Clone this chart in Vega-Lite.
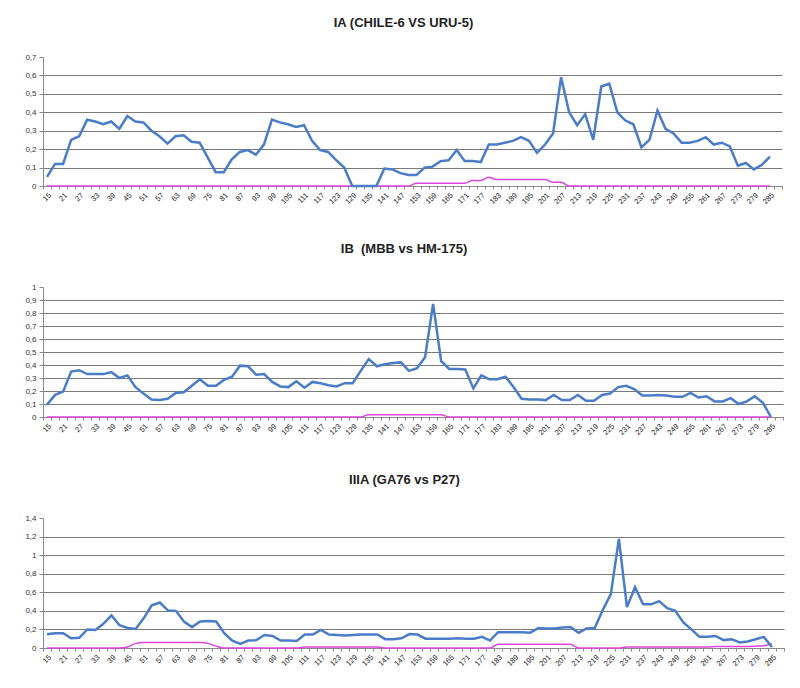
{
"$schema": "https://vega.github.io/schema/vega-lite/v6.json",
"padding": {"left": 0, "top": 17, "right": 0, "bottom": 0},
"background": "white",
"config": {
  "view": {"stroke": null},
  "font": "Liberation Sans",
  "title": {"font": "Liberation Sans", "fontSize": 13, "fontWeight": "bold", "color": "#222222", "anchor": "middle", "offset": 27, "dx": -9},
  "axis": {"labelFont": "Liberation Sans", "labelColor": "#333333", "domainColor": "#8a8a8a", "tickColor": "#8a8a8a", "labelFontSize": 8},
  "concat": {"spacing": 37}
},
"datasets": {
"ia": [{"x":15,"b":0.05,"m":0},{"x":18,"b":0.12,"m":0},{"x":21,"b":0.12,"m":0},{"x":24,"b":0.25,"m":0},{"x":27,"b":0.27,"m":0},{"x":30,"b":0.36,"m":0},{"x":33,"b":0.35,"m":0},{"x":36,"b":0.335,"m":0},{"x":39,"b":0.35,"m":0},{"x":42,"b":0.31,"m":0},{"x":45,"b":0.38,"m":0},{"x":48,"b":0.35,"m":0},{"x":51,"b":0.345,"m":0},{"x":54,"b":0.3,"m":0},{"x":57,"b":0.27,"m":0},{"x":60,"b":0.23,"m":0},{"x":63,"b":0.27,"m":0},{"x":66,"b":0.275,"m":0},{"x":69,"b":0.24,"m":0},{"x":72,"b":0.235,"m":0},{"x":75,"b":0.155,"m":0},{"x":78,"b":0.075,"m":0},{"x":81,"b":0.075,"m":0},{"x":84,"b":0.145,"m":0},{"x":87,"b":0.185,"m":0},{"x":90,"b":0.195,"m":0},{"x":93,"b":0.17,"m":0},{"x":96,"b":0.225,"m":0},{"x":99,"b":0.36,"m":0},{"x":102,"b":0.345,"m":0},{"x":105,"b":0.335,"m":0},{"x":108,"b":0.32,"m":0},{"x":111,"b":0.33,"m":0},{"x":114,"b":0.245,"m":0},{"x":117,"b":0.195,"m":0},{"x":120,"b":0.185,"m":0},{"x":123,"b":0.14,"m":0},{"x":126,"b":0.1,"m":0},{"x":129,"b":0,"m":0},{"x":132,"b":0,"m":0},{"x":135,"b":0,"m":0},{"x":138,"b":0,"m":0},{"x":141,"b":0.095,"m":0},{"x":144,"b":0.09,"m":0},{"x":147,"b":0.07,"m":0},{"x":150,"b":0.06,"m":0},{"x":153,"b":0.06,"m":0.015},{"x":156,"b":0.1,"m":0.015},{"x":159,"b":0.105,"m":0.015},{"x":162,"b":0.135,"m":0.015},{"x":165,"b":0.14,"m":0.015},{"x":168,"b":0.195,"m":0.015},{"x":171,"b":0.135,"m":0.015},{"x":174,"b":0.135,"m":0.03},{"x":177,"b":0.13,"m":0.03},{"x":180,"b":0.225,"m":0.047},{"x":183,"b":0.225,"m":0.035},{"x":186,"b":0.235,"m":0.035},{"x":189,"b":0.245,"m":0.035},{"x":192,"b":0.265,"m":0.035},{"x":195,"b":0.245,"m":0.035},{"x":198,"b":0.18,"m":0.035},{"x":201,"b":0.225,"m":0.035},{"x":204,"b":0.285,"m":0.02},{"x":207,"b":0.59,"m":0.02},{"x":210,"b":0.4,"m":0},{"x":213,"b":0.33,"m":0},{"x":216,"b":0.39,"m":0},{"x":219,"b":0.25,"m":0},{"x":222,"b":0.54,"m":0},{"x":225,"b":0.555,"m":0},{"x":228,"b":0.4,"m":0},{"x":231,"b":0.355,"m":0},{"x":234,"b":0.335,"m":0},{"x":237,"b":0.21,"m":0},{"x":240,"b":0.25,"m":0},{"x":243,"b":0.41,"m":0},{"x":246,"b":0.31,"m":0},{"x":249,"b":0.285,"m":0},{"x":252,"b":0.235,"m":0},{"x":255,"b":0.235,"m":0},{"x":258,"b":0.245,"m":0},{"x":261,"b":0.265,"m":0},{"x":264,"b":0.225,"m":0},{"x":267,"b":0.235,"m":0},{"x":270,"b":0.215,"m":0},{"x":273,"b":0.11,"m":0},{"x":276,"b":0.125,"m":0},{"x":279,"b":0.09,"m":0},{"x":282,"b":0.115,"m":0},{"x":285,"b":0.16,"m":0}],
"ib": [{"x":15,"b":0.095,"m":0},{"x":18,"b":0.17,"m":0},{"x":21,"b":0.195,"m":0},{"x":24,"b":0.35,"m":0},{"x":27,"b":0.36,"m":0},{"x":30,"b":0.33,"m":0},{"x":33,"b":0.33,"m":0},{"x":36,"b":0.33,"m":0},{"x":39,"b":0.345,"m":0},{"x":42,"b":0.3,"m":0},{"x":45,"b":0.32,"m":0},{"x":48,"b":0.23,"m":0},{"x":51,"b":0.18,"m":0},{"x":54,"b":0.135,"m":0},{"x":57,"b":0.13,"m":0},{"x":60,"b":0.14,"m":0},{"x":63,"b":0.185,"m":0},{"x":66,"b":0.19,"m":0},{"x":69,"b":0.24,"m":0},{"x":72,"b":0.29,"m":0},{"x":75,"b":0.24,"m":0},{"x":78,"b":0.24,"m":0},{"x":81,"b":0.285,"m":0},{"x":84,"b":0.31,"m":0},{"x":87,"b":0.395,"m":0},{"x":90,"b":0.39,"m":0},{"x":93,"b":0.325,"m":0},{"x":96,"b":0.33,"m":0},{"x":99,"b":0.27,"m":0},{"x":102,"b":0.235,"m":0},{"x":105,"b":0.23,"m":0},{"x":108,"b":0.275,"m":0},{"x":111,"b":0.225,"m":0},{"x":114,"b":0.27,"m":0},{"x":117,"b":0.26,"m":0},{"x":120,"b":0.245,"m":0},{"x":123,"b":0.235,"m":0},{"x":126,"b":0.26,"m":0},{"x":129,"b":0.26,"m":0},{"x":132,"b":0.355,"m":0},{"x":135,"b":0.445,"m":0.018},{"x":138,"b":0.39,"m":0.018},{"x":141,"b":0.405,"m":0.018},{"x":144,"b":0.415,"m":0.018},{"x":147,"b":0.42,"m":0.018},{"x":150,"b":0.355,"m":0.018},{"x":153,"b":0.375,"m":0.018},{"x":156,"b":0.46,"m":0.018},{"x":159,"b":0.87,"m":0.018},{"x":162,"b":0.43,"m":0.018},{"x":165,"b":0.37,"m":0},{"x":168,"b":0.37,"m":0},{"x":171,"b":0.365,"m":0},{"x":174,"b":0.22,"m":0},{"x":177,"b":0.32,"m":0},{"x":180,"b":0.29,"m":0},{"x":183,"b":0.29,"m":0},{"x":186,"b":0.31,"m":0},{"x":189,"b":0.23,"m":0},{"x":192,"b":0.14,"m":0},{"x":195,"b":0.135,"m":0},{"x":198,"b":0.135,"m":0},{"x":201,"b":0.13,"m":0},{"x":204,"b":0.17,"m":0},{"x":207,"b":0.13,"m":0},{"x":210,"b":0.13,"m":0},{"x":213,"b":0.17,"m":0},{"x":216,"b":0.125,"m":0},{"x":219,"b":0.125,"m":0},{"x":222,"b":0.17,"m":0},{"x":225,"b":0.18,"m":0},{"x":228,"b":0.23,"m":0},{"x":231,"b":0.24,"m":0},{"x":234,"b":0.215,"m":0},{"x":237,"b":0.165,"m":0},{"x":240,"b":0.165,"m":0},{"x":243,"b":0.17,"m":0},{"x":246,"b":0.165,"m":0},{"x":249,"b":0.155,"m":0},{"x":252,"b":0.155,"m":0},{"x":255,"b":0.185,"m":0},{"x":258,"b":0.15,"m":0},{"x":261,"b":0.16,"m":0},{"x":264,"b":0.12,"m":0},{"x":267,"b":0.12,"m":0},{"x":270,"b":0.145,"m":0},{"x":273,"b":0.1,"m":0},{"x":276,"b":0.12,"m":0},{"x":279,"b":0.16,"m":0},{"x":282,"b":0.11,"m":0},{"x":285,"b":0,"m":0}],
"iiia": [{"x":15,"b":0.147,"m":0},{"x":18,"b":0.16,"m":0},{"x":21,"b":0.16,"m":0},{"x":24,"b":0.105,"m":0},{"x":27,"b":0.11,"m":0},{"x":30,"b":0.2,"m":0},{"x":33,"b":0.195,"m":0},{"x":36,"b":0.26,"m":0},{"x":39,"b":0.35,"m":0},{"x":42,"b":0.245,"m":0},{"x":45,"b":0.215,"m":0.01},{"x":48,"b":0.205,"m":0.05},{"x":51,"b":0.32,"m":0.06},{"x":54,"b":0.46,"m":0.06},{"x":57,"b":0.49,"m":0.06},{"x":60,"b":0.405,"m":0.06},{"x":63,"b":0.4,"m":0.06},{"x":66,"b":0.285,"m":0.06},{"x":69,"b":0.225,"m":0.06},{"x":72,"b":0.285,"m":0.06},{"x":75,"b":0.29,"m":0.05},{"x":78,"b":0.285,"m":0.02},{"x":81,"b":0.16,"m":0},{"x":84,"b":0.08,"m":0},{"x":87,"b":0.045,"m":0},{"x":90,"b":0.08,"m":0},{"x":93,"b":0.085,"m":0},{"x":96,"b":0.14,"m":0},{"x":99,"b":0.13,"m":0},{"x":102,"b":0.08,"m":0},{"x":105,"b":0.08,"m":0},{"x":108,"b":0.075,"m":0},{"x":111,"b":0.145,"m":0.012},{"x":114,"b":0.145,"m":0.012},{"x":117,"b":0.195,"m":0.012},{"x":120,"b":0.145,"m":0.012},{"x":123,"b":0.14,"m":0.012},{"x":126,"b":0.135,"m":0.012},{"x":129,"b":0.14,"m":0.012},{"x":132,"b":0.145,"m":0.012},{"x":135,"b":0.145,"m":0.012},{"x":138,"b":0.145,"m":0.012},{"x":141,"b":0.095,"m":0},{"x":144,"b":0.095,"m":0},{"x":147,"b":0.105,"m":0},{"x":150,"b":0.15,"m":0},{"x":153,"b":0.145,"m":0},{"x":156,"b":0.1,"m":0},{"x":159,"b":0.1,"m":0},{"x":162,"b":0.1,"m":0},{"x":165,"b":0.1,"m":0},{"x":168,"b":0.105,"m":0},{"x":171,"b":0.1,"m":0},{"x":174,"b":0.1,"m":0},{"x":177,"b":0.12,"m":0},{"x":180,"b":0.08,"m":0},{"x":183,"b":0.17,"m":0.04},{"x":186,"b":0.17,"m":0.04},{"x":189,"b":0.17,"m":0.04},{"x":192,"b":0.17,"m":0.04},{"x":195,"b":0.165,"m":0.04},{"x":198,"b":0.215,"m":0.04},{"x":201,"b":0.21,"m":0.04},{"x":204,"b":0.21,"m":0.04},{"x":207,"b":0.22,"m":0.04},{"x":210,"b":0.225,"m":0.04},{"x":213,"b":0.165,"m":0},{"x":216,"b":0.21,"m":0},{"x":219,"b":0.215,"m":0},{"x":222,"b":0.41,"m":0},{"x":225,"b":0.58,"m":0},{"x":228,"b":1.175,"m":0},{"x":231,"b":0.44,"m":0.012},{"x":234,"b":0.655,"m":0.012},{"x":237,"b":0.47,"m":0.012},{"x":240,"b":0.47,"m":0.012},{"x":243,"b":0.505,"m":0.012},{"x":246,"b":0.43,"m":0.012},{"x":249,"b":0.4,"m":0.012},{"x":252,"b":0.275,"m":0.012},{"x":255,"b":0.2,"m":0.012},{"x":258,"b":0.12,"m":0.012},{"x":261,"b":0.12,"m":0.012},{"x":264,"b":0.13,"m":0.015},{"x":267,"b":0.085,"m":0.015},{"x":270,"b":0.095,"m":0.015},{"x":273,"b":0.06,"m":0.015},{"x":276,"b":0.07,"m":0.015},{"x":279,"b":0.095,"m":0.02},{"x":282,"b":0.12,"m":0.025},{"x":285,"b":0.01,"m":0.045}]
},
"vconcat": [
{
  "width": 739, "height": 129,
  "title": {"text": "IA (CHILE-6 VS URU-5)", "offset": 23},
  "data": {"name": "ia"},
  "encoding": {
    "x": {"field": "x", "type": "ordinal", "bandPosition": 0.5,
      "scale": {"type": "band", "paddingInner": 0, "paddingOuter": 0, "domain": [15,18,21,24,27,30,33,36,39,42,45,48,51,54,57,60,63,66,69,72,75,78,81,84,87,90,93,96,99,102,105,108,111,114,117,120,123,126,129,132,135,138,141,144,147,150,153,156,159,162,165,168,171,174,177,180,183,186,189,192,195,198,201,204,207,210,213,216,219,222,225,228,231,234,237,240,243,246,249,252,255,258,261,264,267,270,273,276,279,282,285,288]},
      "axis": {"title": null, "labelAngle": -45, "labelExpr": "(datum.value - 15) % 6 === 0 ? datum.label : ''", "labelOverlap": false, "tickBand": "extent", "tickSize": 3, "grid": false, "labelFontSize": 7.5, "labelColor": "#222222", "labelPadding": 2, "minExtent": 20, "maxExtent": 20}
    }
  },
  "resolve": {"axis": {"y": "independent"}},
  "layer": [
    {"mark": {"type": "line", "color": "#dd44dd", "strokeWidth": 1.5, "interpolate": "monotone"},
     "encoding": {"y": {"field": "m", "type": "quantitative", "scale": {"domain": [0, 0.7], "nice": false},
       "axis": {"orient": "left", "title": null, "values": [0,0.1,0.2,0.3,0.4,0.5,0.6], "grid": true, "gridColor": "#7a7a7a", "labels": false, "ticks": false, "domain": false, "minExtent": 0, "maxExtent": 0}}}},
    {"mark": {"type": "line", "color": "#4a7cc7", "strokeWidth": 2.5},
     "encoding": {"y": {"field": "b", "type": "quantitative",
       "axis": {"orient": "left", "title": null, "values": [0,0.1,0.2,0.3,0.4,0.5,0.6,0.7], "grid": false, "labelOverlap": false, "labelExpr": "replace(format(datum.value, '.1~f'), '.', ',')", "tickSize": 4, "labelPadding": 3, "minExtent": 35, "maxExtent": 35}}}}
  ]
},
{
  "width": 740, "height": 130,
  "title": "IB\u00a0 (MBB vs HM-175)",
  "data": {"name": "ib"},
  "encoding": {
    "x": {"field": "x", "type": "ordinal", "bandPosition": 0.5,
      "scale": {"type": "band", "paddingInner": 0, "paddingOuter": 0, "domain": [15,18,21,24,27,30,33,36,39,42,45,48,51,54,57,60,63,66,69,72,75,78,81,84,87,90,93,96,99,102,105,108,111,114,117,120,123,126,129,132,135,138,141,144,147,150,153,156,159,162,165,168,171,174,177,180,183,186,189,192,195,198,201,204,207,210,213,216,219,222,225,228,231,234,237,240,243,246,249,252,255,258,261,264,267,270,273,276,279,282,285,288]},
      "axis": {"title": null, "labelAngle": -45, "labelExpr": "(datum.value - 15) % 6 === 0 ? datum.label : ''", "labelOverlap": false, "tickBand": "extent", "tickSize": 3, "grid": false, "labelFontSize": 7.5, "labelColor": "#222222", "labelPadding": 2, "minExtent": 20, "maxExtent": 20}
    }
  },
  "resolve": {"axis": {"y": "independent"}},
  "layer": [
    {"mark": {"type": "line", "color": "#dd44dd", "strokeWidth": 1.5, "interpolate": "monotone"},
     "encoding": {"y": {"field": "m", "type": "quantitative", "scale": {"domain": [0, 1], "nice": false},
       "axis": {"orient": "left", "title": null, "values": [0,0.1,0.2,0.3,0.4,0.5,0.6,0.7,0.8,0.9], "grid": true, "gridColor": "#7a7a7a", "labels": false, "ticks": false, "domain": false, "minExtent": 0, "maxExtent": 0}}}},
    {"mark": {"type": "line", "color": "#4a7cc7", "strokeWidth": 2.5},
     "encoding": {"y": {"field": "b", "type": "quantitative",
       "axis": {"orient": "left", "title": null, "values": [0,0.1,0.2,0.3,0.4,0.5,0.6,0.7,0.8,0.9,1], "grid": false, "labelOverlap": false, "labelExpr": "replace(format(datum.value, '.1~f'), '.', ',')", "tickSize": 4, "labelPadding": 3, "minExtent": 43, "maxExtent": 43}}}}
  ]
},
{
  "width": 741, "height": 130,
  "title": "IIIA (GA76 vs P27)",
  "data": {"name": "iiia"},
  "encoding": {
    "x": {"field": "x", "type": "ordinal", "bandPosition": 0.5,
      "scale": {"type": "band", "paddingInner": 0, "paddingOuter": 0, "domain": [15,18,21,24,27,30,33,36,39,42,45,48,51,54,57,60,63,66,69,72,75,78,81,84,87,90,93,96,99,102,105,108,111,114,117,120,123,126,129,132,135,138,141,144,147,150,153,156,159,162,165,168,171,174,177,180,183,186,189,192,195,198,201,204,207,210,213,216,219,222,225,228,231,234,237,240,243,246,249,252,255,258,261,264,267,270,273,276,279,282,285,288]},
      "axis": {"title": null, "labelAngle": -45, "labelExpr": "(datum.value - 15) % 6 === 0 ? datum.label : ''", "labelOverlap": false, "tickBand": "extent", "tickSize": 3, "grid": false, "labelFontSize": 7.5, "labelColor": "#222222", "labelPadding": 2, "minExtent": 20, "maxExtent": 20}
    }
  },
  "resolve": {"axis": {"y": "independent"}},
  "layer": [
    {"mark": {"type": "line", "color": "#dd44dd", "strokeWidth": 1.5, "interpolate": "monotone"},
     "encoding": {"y": {"field": "m", "type": "quantitative", "scale": {"domain": [0, 1.4], "nice": false},
       "axis": {"orient": "left", "title": null, "values": [0,0.2,0.4,0.6,0.8,1,1.2], "grid": true, "gridColor": "#7a7a7a", "labels": false, "ticks": false, "domain": false, "minExtent": 0, "maxExtent": 0}}}},
    {"mark": {"type": "line", "color": "#4a7cc7", "strokeWidth": 2.5},
     "encoding": {"y": {"field": "b", "type": "quantitative",
       "axis": {"orient": "left", "title": null, "values": [0,0.2,0.4,0.6,0.8,1,1.2,1.4], "grid": false, "labelOverlap": false, "labelExpr": "replace(format(datum.value, '.1~f'), '.', ',')", "tickSize": 4, "labelPadding": 3, "minExtent": 35, "maxExtent": 35}}}}
  ]
}
]
}
